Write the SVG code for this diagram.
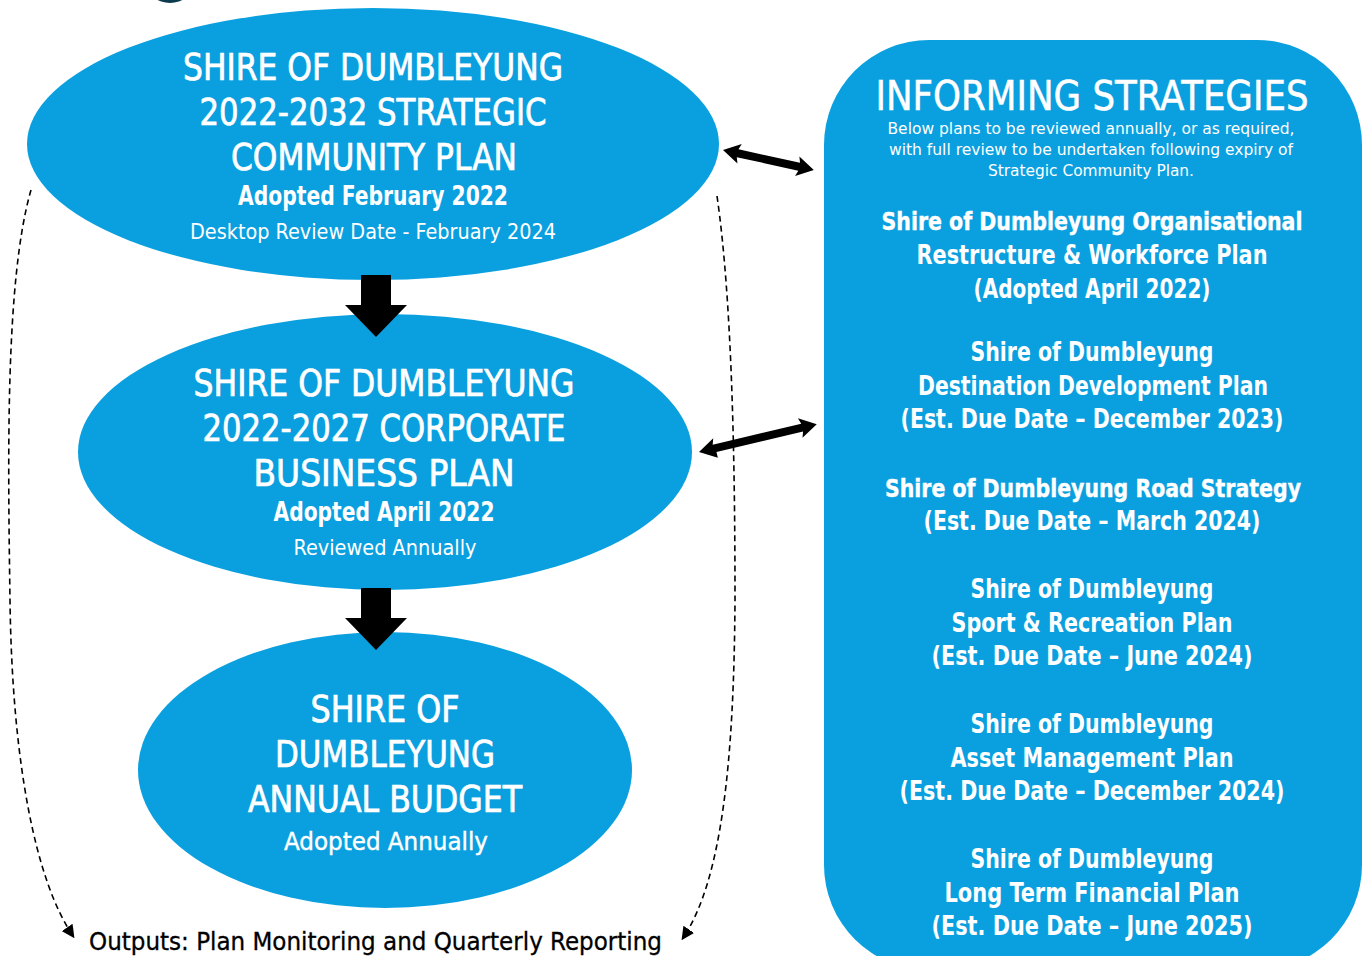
<svg xmlns="http://www.w3.org/2000/svg" width="1363" height="956" viewBox="0 0 1363 956">
  <defs>
    <style>
      .blob { fill: #0AA0DF; }
      .t { font-family: "DejaVu Sans Condensed", "Liberation Sans", sans-serif; fill: #ffffff; text-anchor: middle; }
      .h { font-size: 37px; stroke: #ffffff; stroke-width: 0.7; }
      .b { font-size: 27px; font-weight: bold; }
      .bl { font-size: 25px; font-weight: bold; stroke: #ffffff; stroke-width: 0.4; }
      .r { font-size: 21px; }
      .s { font-size: 16px; }
      .dash { fill: none; stroke: #000; stroke-width: 1.6; stroke-dasharray: 6 4; }
      .out { font-family: "DejaVu Sans Condensed", "Liberation Sans", sans-serif; font-size: 25px; fill: #000; stroke: #000; stroke-width: 0.3; }
    </style>
    <marker id="tri" viewBox="0 0 10 10" refX="8" refY="5" markerWidth="13" markerHeight="13" markerUnits="userSpaceOnUse" orient="auto">
      <path d="M0,0 L10,5 L0,10 z" fill="#000"/>
    </marker>
  </defs>

  <rect width="1363" height="956" fill="#ffffff"/>

  <!-- logo edge at top -->
  <ellipse cx="170" cy="-16" rx="23" ry="19" fill="#0d3b4e"/>

  <!-- strategic community plan -->
  <g id="scp">
    <ellipse class="blob" cx="373" cy="144" rx="346" ry="136"/>
    <text class="t h" x="373" y="80" textLength="380" lengthAdjust="spacingAndGlyphs">SHIRE OF DUMBLEYUNG</text>
    <text class="t h" x="373" y="125" textLength="347" lengthAdjust="spacingAndGlyphs">2022-2032 STRATEGIC</text>
    <text class="t h" x="374" y="170" textLength="286" lengthAdjust="spacingAndGlyphs">COMMUNITY PLAN</text>
    <text class="t b" x="373" y="205" textLength="270" lengthAdjust="spacingAndGlyphs">Adopted February 2022</text>
    <text class="t r" x="373" y="239" textLength="366" lengthAdjust="spacingAndGlyphs">Desktop Review Date - February 2024</text>
  </g>

  <!-- corporate business plan -->
  <g id="cbp">
    <ellipse class="blob" cx="385" cy="452" rx="307" ry="138"/>
    <text class="t h" x="384" y="396" textLength="381" lengthAdjust="spacingAndGlyphs">SHIRE OF DUMBLEYUNG</text>
    <text class="t h" x="384" y="441" textLength="363" lengthAdjust="spacingAndGlyphs">2022-2027 CORPORATE</text>
    <text class="t h" x="384" y="486" textLength="261" lengthAdjust="spacingAndGlyphs">BUSINESS PLAN</text>
    <text class="t b" x="384" y="521" textLength="221" lengthAdjust="spacingAndGlyphs">Adopted April 2022</text>
    <text class="t r" x="385" y="555" textLength="183" lengthAdjust="spacingAndGlyphs">Reviewed Annually</text>
  </g>

  <!-- annual budget -->
  <g id="budget">
    <ellipse class="blob" cx="385" cy="770" rx="247" ry="138"/>
    <text class="t h" x="385" y="722" textLength="149" lengthAdjust="spacingAndGlyphs">SHIRE OF</text>
    <text class="t h" x="385" y="767" textLength="220" lengthAdjust="spacingAndGlyphs">DUMBLEYUNG</text>
    <text class="t h" x="385" y="812" textLength="274" lengthAdjust="spacingAndGlyphs">ANNUAL BUDGET</text>
    <text class="t" x="386" y="850" font-size="25" stroke="#fff" stroke-width="0.4" textLength="204" lengthAdjust="spacingAndGlyphs">Adopted Annually</text>
  </g>

  <!-- informing strategies panel -->
  <g id="informing">
    <rect class="blob" x="824" y="40" width="538" height="930" rx="105" ry="105"/>
    <text class="t" x="1092" y="110" font-size="40" stroke="#fff" stroke-width="0.5" textLength="433" lengthAdjust="spacingAndGlyphs">INFORMING STRATEGIES</text>
    <text class="t s" x="1091" y="134" textLength="407" lengthAdjust="spacingAndGlyphs">Below plans to be reviewed annually, or as required,</text>
    <text class="t s" x="1091" y="155" textLength="404" lengthAdjust="spacingAndGlyphs">with full review to be undertaken following expiry of</text>
    <text class="t s" x="1091" y="176" textLength="206" lengthAdjust="spacingAndGlyphs">Strategic Community Plan.</text>

    <text class="t bl" x="1092" y="230" textLength="421" lengthAdjust="spacingAndGlyphs">Shire of Dumbleyung Organisational</text>
    <text class="t b" x="1092" y="264" textLength="351" lengthAdjust="spacingAndGlyphs">Restructure &amp; Workforce Plan</text>
    <text class="t b" x="1092" y="298" textLength="237" lengthAdjust="spacingAndGlyphs">(Adopted April 2022)</text>

    <text class="t b" x="1092" y="361" textLength="243" lengthAdjust="spacingAndGlyphs">Shire of Dumbleyung</text>
    <text class="t b" x="1093" y="395" textLength="350" lengthAdjust="spacingAndGlyphs">Destination Development Plan</text>
    <text class="t b" x="1092" y="428" textLength="383" lengthAdjust="spacingAndGlyphs">(Est. Due Date – December 2023)</text>

    <text class="t bl" x="1093" y="497" textLength="416" lengthAdjust="spacingAndGlyphs">Shire of Dumbleyung Road Strategy</text>
    <text class="t b" x="1092" y="530" textLength="337" lengthAdjust="spacingAndGlyphs">(Est. Due Date – March 2024)</text>

    <text class="t b" x="1092" y="598" textLength="243" lengthAdjust="spacingAndGlyphs">Shire of Dumbleyung</text>
    <text class="t b" x="1092" y="632" textLength="281" lengthAdjust="spacingAndGlyphs">Sport &amp; Recreation Plan</text>
    <text class="t b" x="1092" y="665" textLength="321" lengthAdjust="spacingAndGlyphs">(Est. Due Date – June 2024)</text>

    <text class="t b" x="1092" y="733" textLength="243" lengthAdjust="spacingAndGlyphs">Shire of Dumbleyung</text>
    <text class="t b" x="1092" y="767" textLength="283" lengthAdjust="spacingAndGlyphs">Asset Management Plan</text>
    <text class="t b" x="1092" y="800" textLength="385" lengthAdjust="spacingAndGlyphs">(Est. Due Date – December 2024)</text>

    <text class="t b" x="1092" y="868" textLength="243" lengthAdjust="spacingAndGlyphs">Shire of Dumbleyung</text>
    <text class="t b" x="1092" y="902" textLength="295" lengthAdjust="spacingAndGlyphs">Long Term Financial Plan</text>
    <text class="t b" x="1092" y="935" textLength="321" lengthAdjust="spacingAndGlyphs">(Est. Due Date – June 2025)</text>
  </g>

  <!-- connectors -->
  <g id="connectors">
    <!-- block arrows down -->
    <path d="M361,275 H391 V305 H407 L376,337 L345,305 H361 Z" fill="#000"/>
    <path d="M361,588 H391 V618 H407 L376,650 L345,618 H361 Z" fill="#000"/>
    <!-- two-way arrows to the panel -->
    <g transform="translate(723,150) rotate(12.4)">
      <path d="M0,0 L17,-10 L15,-4 H78 L76,-10 L93,0 L76,10 L78,4 H15 L17,10 Z" fill="#000"/>
    </g>
    <g transform="translate(699,452) rotate(-13.3)">
      <path d="M0,0 L17,-10 L15,-4 H106 L104,-10 L121,0 L104,10 L106,4 H17 L17,10 Z" fill="#000"/>
    </g>
    <!-- dashed feedback loops -->
    <path class="dash" d="M31,190 C5,280 8,460 10,600 C12,760 35,880 73,936" marker-end="url(#tri)"/>
    <path class="dash" d="M717,196 C732,300 735,460 735,600 C734,760 722,880 683,938" marker-end="url(#tri)"/>
  </g>

  <text class="out" x="89" y="950" textLength="573" lengthAdjust="spacingAndGlyphs">Outputs: Plan Monitoring and Quarterly Reporting</text>
</svg>
